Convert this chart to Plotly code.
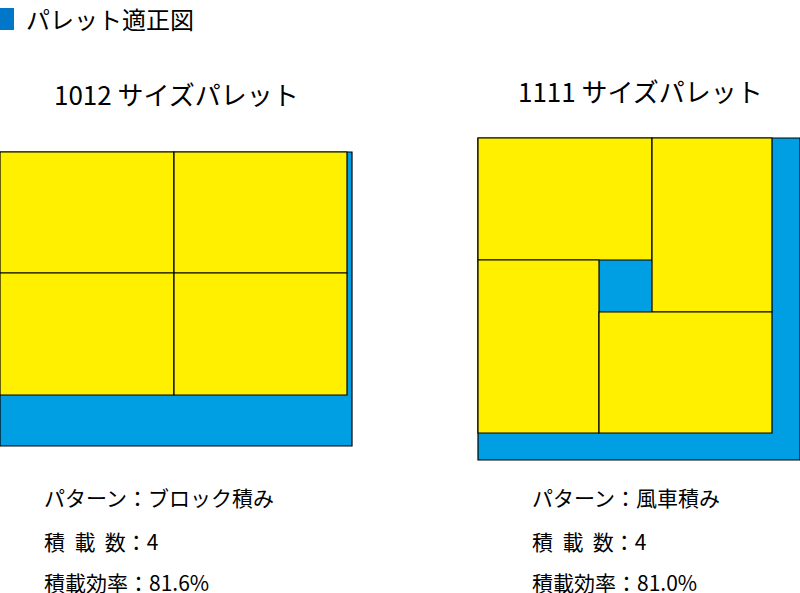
import plotly.graph_objects as go

BLUE = "#009FE3"
YELLOW = "#FFF000"

# pallet outlines (x0, y0, x1, y1) in picture units (y downward)
pallets = [(0, 152, 352, 446), (478, 138, 800, 460)]
# cartons for 1012 block stacking
boxes_left = [(0, 152, 174, 273), (174, 152, 347, 273), (0, 273, 174, 395), (174, 273, 347, 395)]
# cartons for 1111 pinwheel stacking
boxes_right = [(478, 138, 652, 260), (652, 138, 772, 312), (478, 260, 599, 433), (599, 312, 772, 433)]

titles = ["1012 サイズパレット", "1111 サイズパレット"]
title_x = [176, 640]
title_y = [93, 90]
info_left = ["パターン：ブロック積み", "積  載  数：4", "積載効率：81.6%"]
info_right = ["パターン：風車積み", "積  載  数：4", "積載効率：81.0%"]
info_y = [497, 541, 582]
info_x = [42, 530]

FONT = "Noto Sans CJK JP"
fig = go.Figure()
shapes = []
shapes.append(dict(type="rect", x0=0, y0=8, x1=14, y1=30, fillcolor="#0077C8", line_width=0))
for p in pallets:
    shapes.append(dict(type="rect", x0=p[0], y0=p[1], x1=p[2], y1=p[3], fillcolor=BLUE,
                       line=dict(color="black", width=1.2)))
for b in boxes_left + boxes_right:
    shapes.append(dict(type="rect", x0=b[0], y0=b[1], x1=b[2], y1=b[3], fillcolor=YELLOW,
                       line=dict(color="black", width=1.2)))
for s in shapes:
    s["xref"] = "x"; s["yref"] = "y"; s["layer"] = "above"
annotations = [dict(x=24, y=18, text="パレット適正図", xanchor="left", yanchor="middle",
                    font=dict(size=24, family=FONT, color="black"), showarrow=False)]
for t, x, y in zip(titles, title_x, title_y):
    annotations.append(dict(x=x, y=y, text=t, xanchor="center", yanchor="middle",
                            font=dict(size=26, family=FONT, color="black"), showarrow=False))
for lines, x in zip([info_left, info_right], info_x):
    for t, y in zip(lines, info_y):
        annotations.append(dict(x=x, y=y, text=t, xanchor="left", yanchor="middle",
                                font=dict(size=21, family=FONT, color="black"), showarrow=False))

fig.update_layout(
    width=800, height=593, margin=dict(l=0, r=0, t=0, b=0),
    paper_bgcolor="white", plot_bgcolor="white", showlegend=False,
    xaxis=dict(range=[0, 800], visible=False, fixedrange=True),
    yaxis=dict(range=[593, 0], visible=False, fixedrange=True),
    shapes=shapes, annotations=annotations,
)
fig.write_html("out.html", config={"displayModeBar": False})
with open("out.html", encoding="utf-8") as f:
    html = f.read()
html = html.replace("<head>", "<head><style>html,body{margin:0;padding:0;overflow:hidden}</style>", 1)
with open("out.html", "w", encoding="utf-8") as f:
    f.write(html)
